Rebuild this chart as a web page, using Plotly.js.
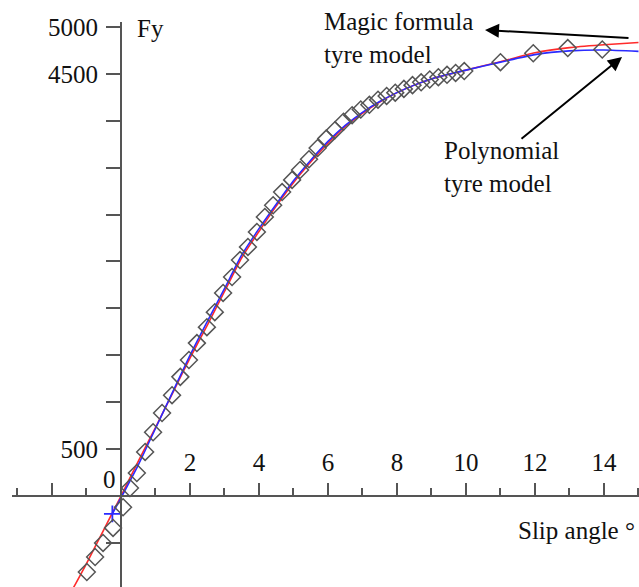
<!DOCTYPE html>
<html>
<head>
<meta charset="utf-8">
<script src="https://cdn.plot.ly/plotly-3.0.1.min.js"></script>
<style>html,body{margin:0;padding:0;background:#fff;}#chart{width:639px;height:587px;}</style>
</head>
<body>
<div id="chart"></div>
<script>
// Measured data (diamonds)
const measuredSlip = [-0.99, -0.75, -0.52, -0.23, 0.06, 0.26, 0.46, 0.70, 0.93, 1.19, 1.48, 1.72, 1.97, 2.20, 2.49, 2.72, 2.96, 3.22, 3.45, 3.68, 3.94, 4.17, 4.41, 4.67, 4.96, 5.19, 5.45, 5.70, 5.95, 6.20, 6.45, 6.70, 6.95, 7.20, 7.45, 7.70, 7.95, 8.20, 8.45, 8.70, 8.95, 9.20, 9.45, 9.70, 9.95, 11.0, 11.95, 12.95, 13.95];
const measuredFy = [-810, -650, -500, -340, -120, 85, 245, 470, 680, 885, 1075, 1270, 1450, 1630, 1800, 1960, 2165, 2335, 2515, 2655, 2815, 2975, 3100, 3240, 3370, 3475, 3590, 3710, 3810, 3900, 3990, 4060, 4120, 4170, 4225, 4265, 4300, 4340, 4380, 4410, 4440, 4465, 4490, 4510, 4530, 4625, 4720, 4775, 4760];

// Magic formula tyre model (red)
const magicSlip = [-1.5, -1, -0.5, 0, 0.5, 1, 1.5, 2, 2.5, 3, 3.5, 4, 4.5, 5, 5.5, 6, 6.5, 7, 7.5, 8, 8.5, 9, 9.5, 10, 11, 12, 13, 14, 15];
const magicFy = [-1060, -720, -360, 0, 370, 730, 1100, 1470, 1820, 2180, 2540, 2820, 3090, 3340, 3560, 3760, 3940, 4080, 4200, 4300, 4380, 4445, 4495, 4540, 4630, 4725, 4780, 4810, 4835];

// Polynomial tyre model (blue)
const polySlip = [-0.25, 0, 0.5, 1, 1.5, 2, 2.5, 3, 3.5, 4, 4.5, 5, 5.5, 6, 6.5, 7, 7.5, 8, 8.5, 9, 9.5, 10, 11, 12, 13, 14, 15];
const polyFy = [-190, -20, 330, 720, 1110, 1500, 1860, 2210, 2570, 2850, 3110, 3360, 3580, 3780, 3950, 4090, 4205, 4300, 4380, 4445, 4495, 4540, 4625, 4705, 4745, 4755, 4740];

// Tick labels
const xTickVals = [-2, 2, 4, 6, 8, 10, 12, 14];
const xTickText = ['', '2', '4', '6', '8', '10', '12', '14'];
const yTickVals = [-500, 0, 500, 1000, 1500, 2000, 2500, 3000, 3500, 4000, 4500, 5000];
const yTickText = ['', '', '500', '', '', '', '', '', '', '', '4500', '5000'];

const W = 639, H = 587;
const serif = 'Liberation Serif, Times New Roman, serif';
const axisCol = '#555';
const redCol = '#ff2b2b', blueCol = '#2b2bff';

const traces = [
  {x: magicSlip, y: magicFy, mode: 'lines', line: {color: redCol, width: 1.6, shape: 'spline', smoothing: 0.6}, hoverinfo: 'skip'},
  {x: polySlip, y: polyFy, mode: 'lines', line: {color: blueCol, width: 1.6, shape: 'spline', smoothing: 0.6}, hoverinfo: 'skip'},
  {x: [polySlip[0]], y: [polyFy[0]], mode: 'markers', marker: {symbol: 'cross-thin-open', size: 12, color: blueCol, line: {color: blueCol, width: 1.8}}, hoverinfo: 'skip'},
  {x: measuredSlip, y: measuredFy, mode: 'markers', marker: {symbol: 'diamond-open', size: 13, color: '#555', line: {color: '#555', width: 1.5}}, hoverinfo: 'skip'}
];

const tickFont = {family: serif, size: 25, color: '#111'};
const layout = {
  width: W, height: H,
  margin: {l: 0, r: 0, t: 0, b: 0, pad: 0},
  paper_bgcolor: '#fff', plot_bgcolor: '#fff',
  showlegend: false, hovermode: false,
  xaxis: {
    domain: [12 / W, 1], range: [-3.159, 15.015],
    anchor: 'free', position: 91 / H, side: 'top',
    showline: true, linecolor: axisCol, linewidth: 2,
    showgrid: false, zeroline: false,
    tickmode: 'array', tickvals: xTickVals, ticktext: xTickText,
    ticks: 'outside', ticklen: 12, tickwidth: 2, tickcolor: axisCol,
    minor: {tickmode: 'linear', tick0: 0, dtick: 1, ticks: 'outside', ticklen: 7, tickwidth: 2, tickcolor: axisCol, showgrid: false},
    tickfont: tickFont, ticklabelstandoff: 2
  },
  yaxis: {
    domain: [0, 1 - 22 / H], range: [-970, 5053],
    anchor: 'free', position: 121 / W,
    showline: true, linecolor: axisCol, linewidth: 2,
    showgrid: false, zeroline: false,
    tickmode: 'array', tickvals: yTickVals, ticktext: yTickText,
    ticks: 'outside', ticklen: 14, tickwidth: 2, tickcolor: axisCol,
    tickfont: tickFont, ticklabelstandoff: 3
  },
  annotations: [
    {xref: 'paper', yref: 'paper', x: 135 / W, y: 1 - 28 / H, xanchor: 'left', yanchor: 'middle', text: 'Fy', showarrow: false, font: {family: serif, size: 25, color: '#111'}},
    {xref: 'paper', yref: 'paper', x: 118 / W, y: 1 - 479 / H, xanchor: 'right', yanchor: 'middle', text: '0', showarrow: false, font: {family: serif, size: 25, color: '#111'}},
    {xref: 'paper', yref: 'paper', x: 637 / W, y: 1 - 530 / H, xanchor: 'right', yanchor: 'middle', text: 'Slip angle °', showarrow: false, font: {family: serif, size: 25, color: '#111'}},
    {xref: 'paper', yref: 'paper', x: 322 / W, y: 1 - 38 / H, xanchor: 'left', yanchor: 'middle', align: 'left', text: 'Magic formula<br>tyre model', showarrow: false, font: {family: serif, size: 25, color: '#111'}},
    {xref: 'paper', yref: 'paper', x: 442 / W, y: 1 - 167 / H, xanchor: 'left', yanchor: 'middle', align: 'left', text: 'Polynomial<br>tyre model', showarrow: false, font: {family: serif, size: 25, color: '#111'}},
    {xref: 'paper', yref: 'paper', x: 485 / W, y: 1 - 30 / H, text: '', showarrow: true, ax: 145, ay: 8, arrowhead: 2, arrowsize: 1.4, arrowwidth: 2, arrowcolor: '#000'},
    {xref: 'paper', yref: 'paper', x: 622 / W, y: 1 - 57 / H, text: '', showarrow: true, ax: -102, ay: 83, arrowhead: 2, arrowsize: 1.4, arrowwidth: 2, arrowcolor: '#000'}
  ]
};

Plotly.newPlot('chart', traces, layout, {staticPlot: true, displayModeBar: false});
</script>
</body>
</html>
